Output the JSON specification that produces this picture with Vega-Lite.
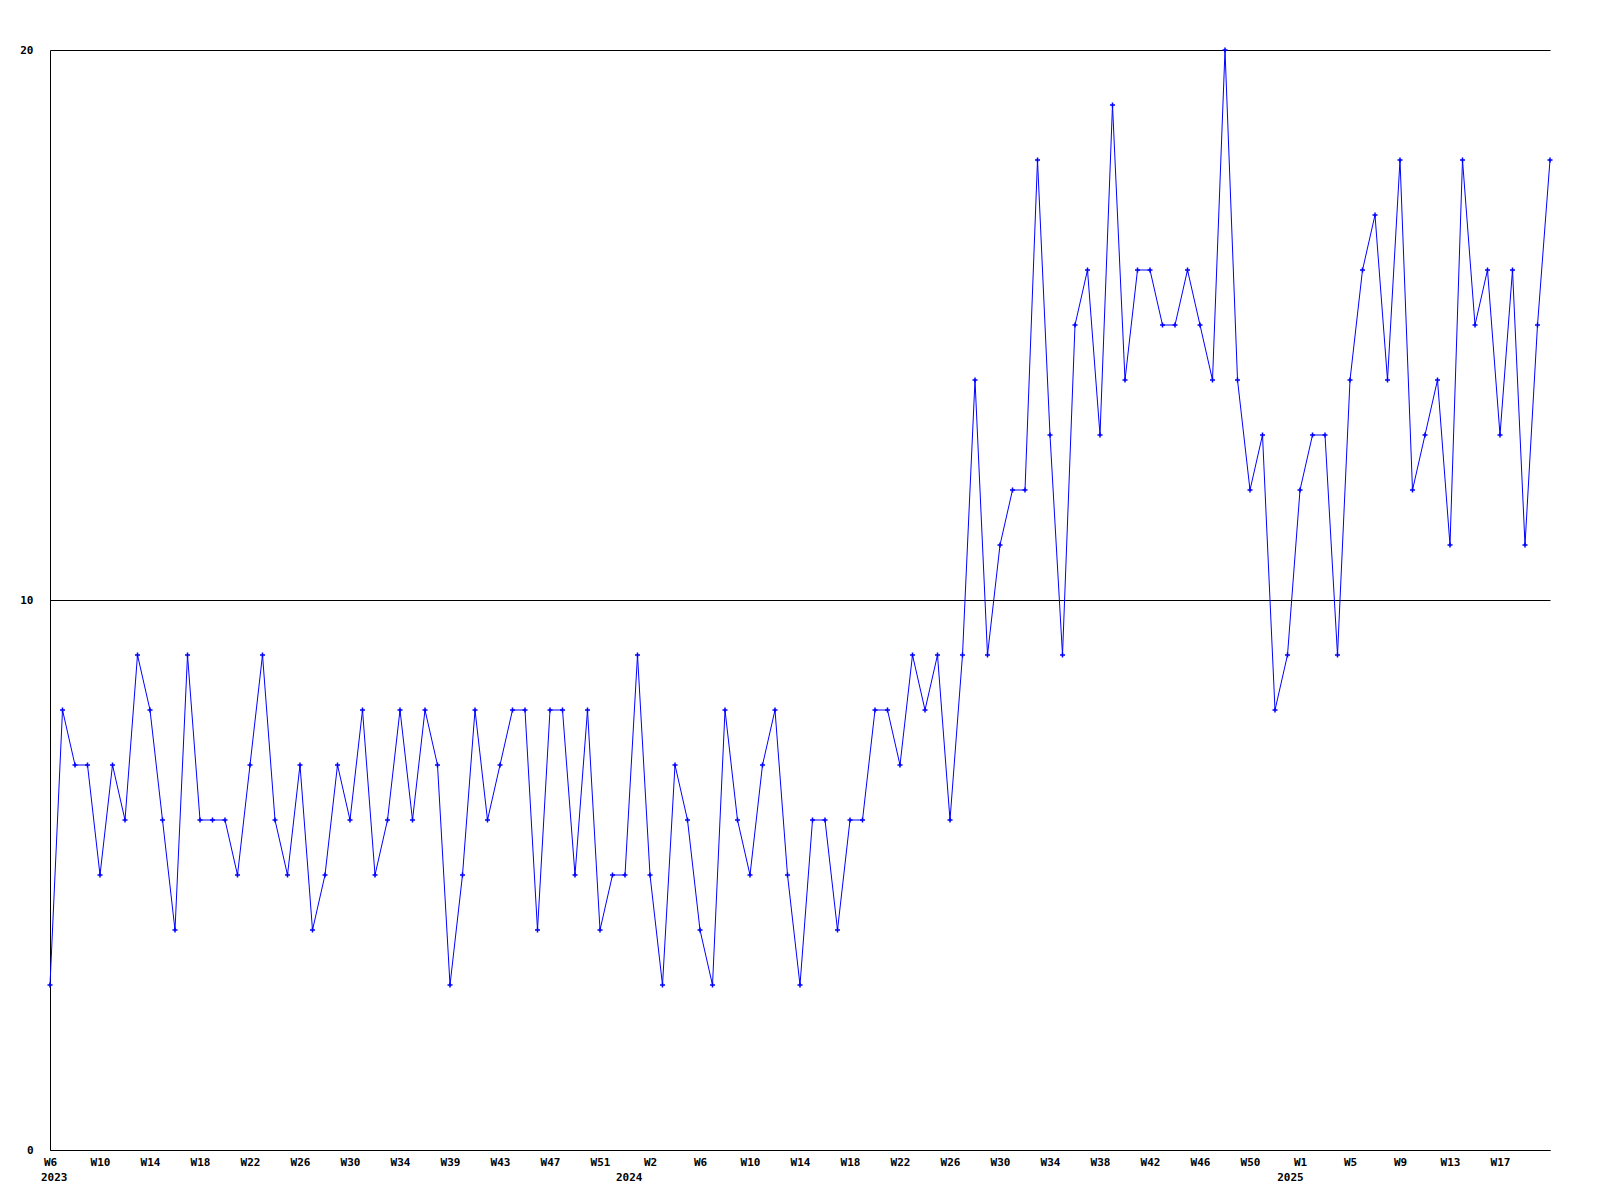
{
  "$schema": "https://vega.github.io/schema/vega-lite/v6.json",
  "width": 1500,
  "height": 1100,
  "autosize": {"type": "none"},
  "padding": {"left": 50, "top": 50, "right": 50, "bottom": 50},
  "background": "white",
  "config": {
    "view": {"stroke": null},
    "axis": {"labelFont": "DejaVu Sans Mono", "labelFontWeight": "bold", "labelFontSize": 11, "labelColor": "black"}
  },
  "data": {"values": [
    {"i":0,"week":"2023-W06","value":3},{"i":1,"week":"2023-W07","value":8},{"i":2,"week":"2023-W08","value":7},{"i":3,"week":"2023-W09","value":7},{"i":4,"week":"2023-W10","value":5},
    {"i":5,"week":"2023-W11","value":7},{"i":6,"week":"2023-W12","value":6},{"i":7,"week":"2023-W13","value":9},{"i":8,"week":"2023-W14","value":8},{"i":9,"week":"2023-W15","value":6},
    {"i":10,"week":"2023-W16","value":4},{"i":11,"week":"2023-W17","value":9},{"i":12,"week":"2023-W18","value":6},{"i":13,"week":"2023-W19","value":6},{"i":14,"week":"2023-W20","value":6},
    {"i":15,"week":"2023-W21","value":5},{"i":16,"week":"2023-W22","value":7},{"i":17,"week":"2023-W23","value":9},{"i":18,"week":"2023-W24","value":6},{"i":19,"week":"2023-W25","value":5},
    {"i":20,"week":"2023-W26","value":7},{"i":21,"week":"2023-W27","value":4},{"i":22,"week":"2023-W28","value":5},{"i":23,"week":"2023-W29","value":7},{"i":24,"week":"2023-W30","value":6},
    {"i":25,"week":"2023-W31","value":8},{"i":26,"week":"2023-W32","value":5},{"i":27,"week":"2023-W33","value":6},{"i":28,"week":"2023-W34","value":8},{"i":29,"week":"2023-W36","value":6},
    {"i":30,"week":"2023-W37","value":8},{"i":31,"week":"2023-W38","value":7},{"i":32,"week":"2023-W39","value":3},{"i":33,"week":"2023-W40","value":5},{"i":34,"week":"2023-W41","value":8},
    {"i":35,"week":"2023-W42","value":6},{"i":36,"week":"2023-W43","value":7},{"i":37,"week":"2023-W44","value":8},{"i":38,"week":"2023-W45","value":8},{"i":39,"week":"2023-W46","value":4},
    {"i":40,"week":"2023-W47","value":8},{"i":41,"week":"2023-W48","value":8},{"i":42,"week":"2023-W49","value":5},{"i":43,"week":"2023-W50","value":8},{"i":44,"week":"2023-W51","value":4},
    {"i":45,"week":"2023-W52","value":5},{"i":46,"week":"2023-W53","value":5},{"i":47,"week":"2024-W01","value":9},{"i":48,"week":"2024-W02","value":5},{"i":49,"week":"2024-W03","value":3},
    {"i":50,"week":"2024-W04","value":7},{"i":51,"week":"2024-W05","value":6},{"i":52,"week":"2024-W06","value":4},{"i":53,"week":"2024-W07","value":3},{"i":54,"week":"2024-W08","value":8},
    {"i":55,"week":"2024-W09","value":6},{"i":56,"week":"2024-W10","value":5},{"i":57,"week":"2024-W11","value":7},{"i":58,"week":"2024-W12","value":8},{"i":59,"week":"2024-W13","value":5},
    {"i":60,"week":"2024-W14","value":3},{"i":61,"week":"2024-W15","value":6},{"i":62,"week":"2024-W16","value":6},{"i":63,"week":"2024-W17","value":4},{"i":64,"week":"2024-W18","value":6},
    {"i":65,"week":"2024-W19","value":6},{"i":66,"week":"2024-W20","value":8},{"i":67,"week":"2024-W21","value":8},{"i":68,"week":"2024-W22","value":7},{"i":69,"week":"2024-W23","value":9},
    {"i":70,"week":"2024-W24","value":8},{"i":71,"week":"2024-W25","value":9},{"i":72,"week":"2024-W26","value":6},{"i":73,"week":"2024-W27","value":9},{"i":74,"week":"2024-W28","value":14},
    {"i":75,"week":"2024-W29","value":9},{"i":76,"week":"2024-W30","value":11},{"i":77,"week":"2024-W31","value":12},{"i":78,"week":"2024-W32","value":12},{"i":79,"week":"2024-W33","value":18},
    {"i":80,"week":"2024-W34","value":13},{"i":81,"week":"2024-W35","value":9},{"i":82,"week":"2024-W36","value":15},{"i":83,"week":"2024-W37","value":16},{"i":84,"week":"2024-W38","value":13},
    {"i":85,"week":"2024-W39","value":19},{"i":86,"week":"2024-W40","value":14},{"i":87,"week":"2024-W41","value":16},{"i":88,"week":"2024-W42","value":16},{"i":89,"week":"2024-W43","value":15},
    {"i":90,"week":"2024-W44","value":15},{"i":91,"week":"2024-W45","value":16},{"i":92,"week":"2024-W46","value":15},{"i":93,"week":"2024-W47","value":14},{"i":94,"week":"2024-W48","value":20},
    {"i":95,"week":"2024-W49","value":14},{"i":96,"week":"2024-W50","value":12},{"i":97,"week":"2024-W51","value":13},{"i":98,"week":"2024-W52","value":8},{"i":99,"week":"2024-W53","value":9},
    {"i":100,"week":"2025-W01","value":12},{"i":101,"week":"2025-W02","value":13},{"i":102,"week":"2025-W03","value":13},{"i":103,"week":"2025-W04","value":9},{"i":104,"week":"2025-W05","value":14},
    {"i":105,"week":"2025-W06","value":16},{"i":106,"week":"2025-W07","value":17},{"i":107,"week":"2025-W08","value":14},{"i":108,"week":"2025-W09","value":18},{"i":109,"week":"2025-W10","value":12},
    {"i":110,"week":"2025-W11","value":13},{"i":111,"week":"2025-W12","value":14},{"i":112,"week":"2025-W13","value":11},{"i":113,"week":"2025-W14","value":18},{"i":114,"week":"2025-W15","value":15},
    {"i":115,"week":"2025-W16","value":16},{"i":116,"week":"2025-W17","value":13},{"i":117,"week":"2025-W18","value":16},{"i":118,"week":"2025-W19","value":11},{"i":119,"week":"2025-W20","value":15},
    {"i":120,"week":"2025-W21","value":18}
  ]},
  "layer": [
    {
      "mark": {"type": "line", "color": "#0000ff", "strokeWidth": 1},
      "encoding": {
        "x": {
          "field": "i", "type": "quantitative",
          "scale": {"domain": [0, 120], "nice": false, "zero": false},
          "axis": {
            "orient": "bottom",
            "values": [0,4,8,12,16,20,24,28,32,36,40,44,48,52,56,60,64,68,72,76,80,84,88,92,96,100,104,108,112,116],
            "labelExpr": "['W6','W10','W14','W18','W22','W26','W30','W34','W39','W43','W47','W51','W2','W6','W10','W14','W18','W22','W26','W30','W34','W38','W42','W46','W50','W1','W5','W9','W13','W17'][round(datum.value/4)]",
            "grid": false, "ticks": false, "domainColor": "black", "domainWidth": 1,
            "labelPadding": 6, "labelFlush": false, "labelOverlap": false, "labelBound": false, "title": null
          }
        },
        "y": {
          "field": "value", "type": "quantitative",
          "scale": {"domain": [0, 20], "nice": false, "zero": true},
          "axis": {
            "values": [0, 10, 20], "grid": true, "gridColor": "black", "gridOpacity": 1, "gridWidth": 1,
            "domainColor": "black", "domainWidth": 1, "ticks": false, "labelPadding": 17, "title": null
          }
        }
      }
    },
    {
      "mark": {"type": "point", "shape": "M-1,0H1M0,-1V1", "size": 25, "stroke": "#0000ff", "strokeWidth": 1.5, "filled": false, "opacity": 1},
      "encoding": {
        "x": {
          "field": "i", "type": "quantitative",
          "axis": {
            "orient": "bottom", "values": [0.3, 46.3, 99.2],
            "labelExpr": "datum.value < 20 ? '2023' : datum.value < 70 ? '2024' : '2025'",
            "domain": false, "ticks": false, "grid": false, "labelPadding": 6, "offset": 15,
            "labelFlush": false, "labelOverlap": false, "labelBound": false, "title": null
          }
        },
        "y": {"field": "value", "type": "quantitative"}
      }
    }
  ],
  "resolve": {"axis": {"x": "independent"}}
}
